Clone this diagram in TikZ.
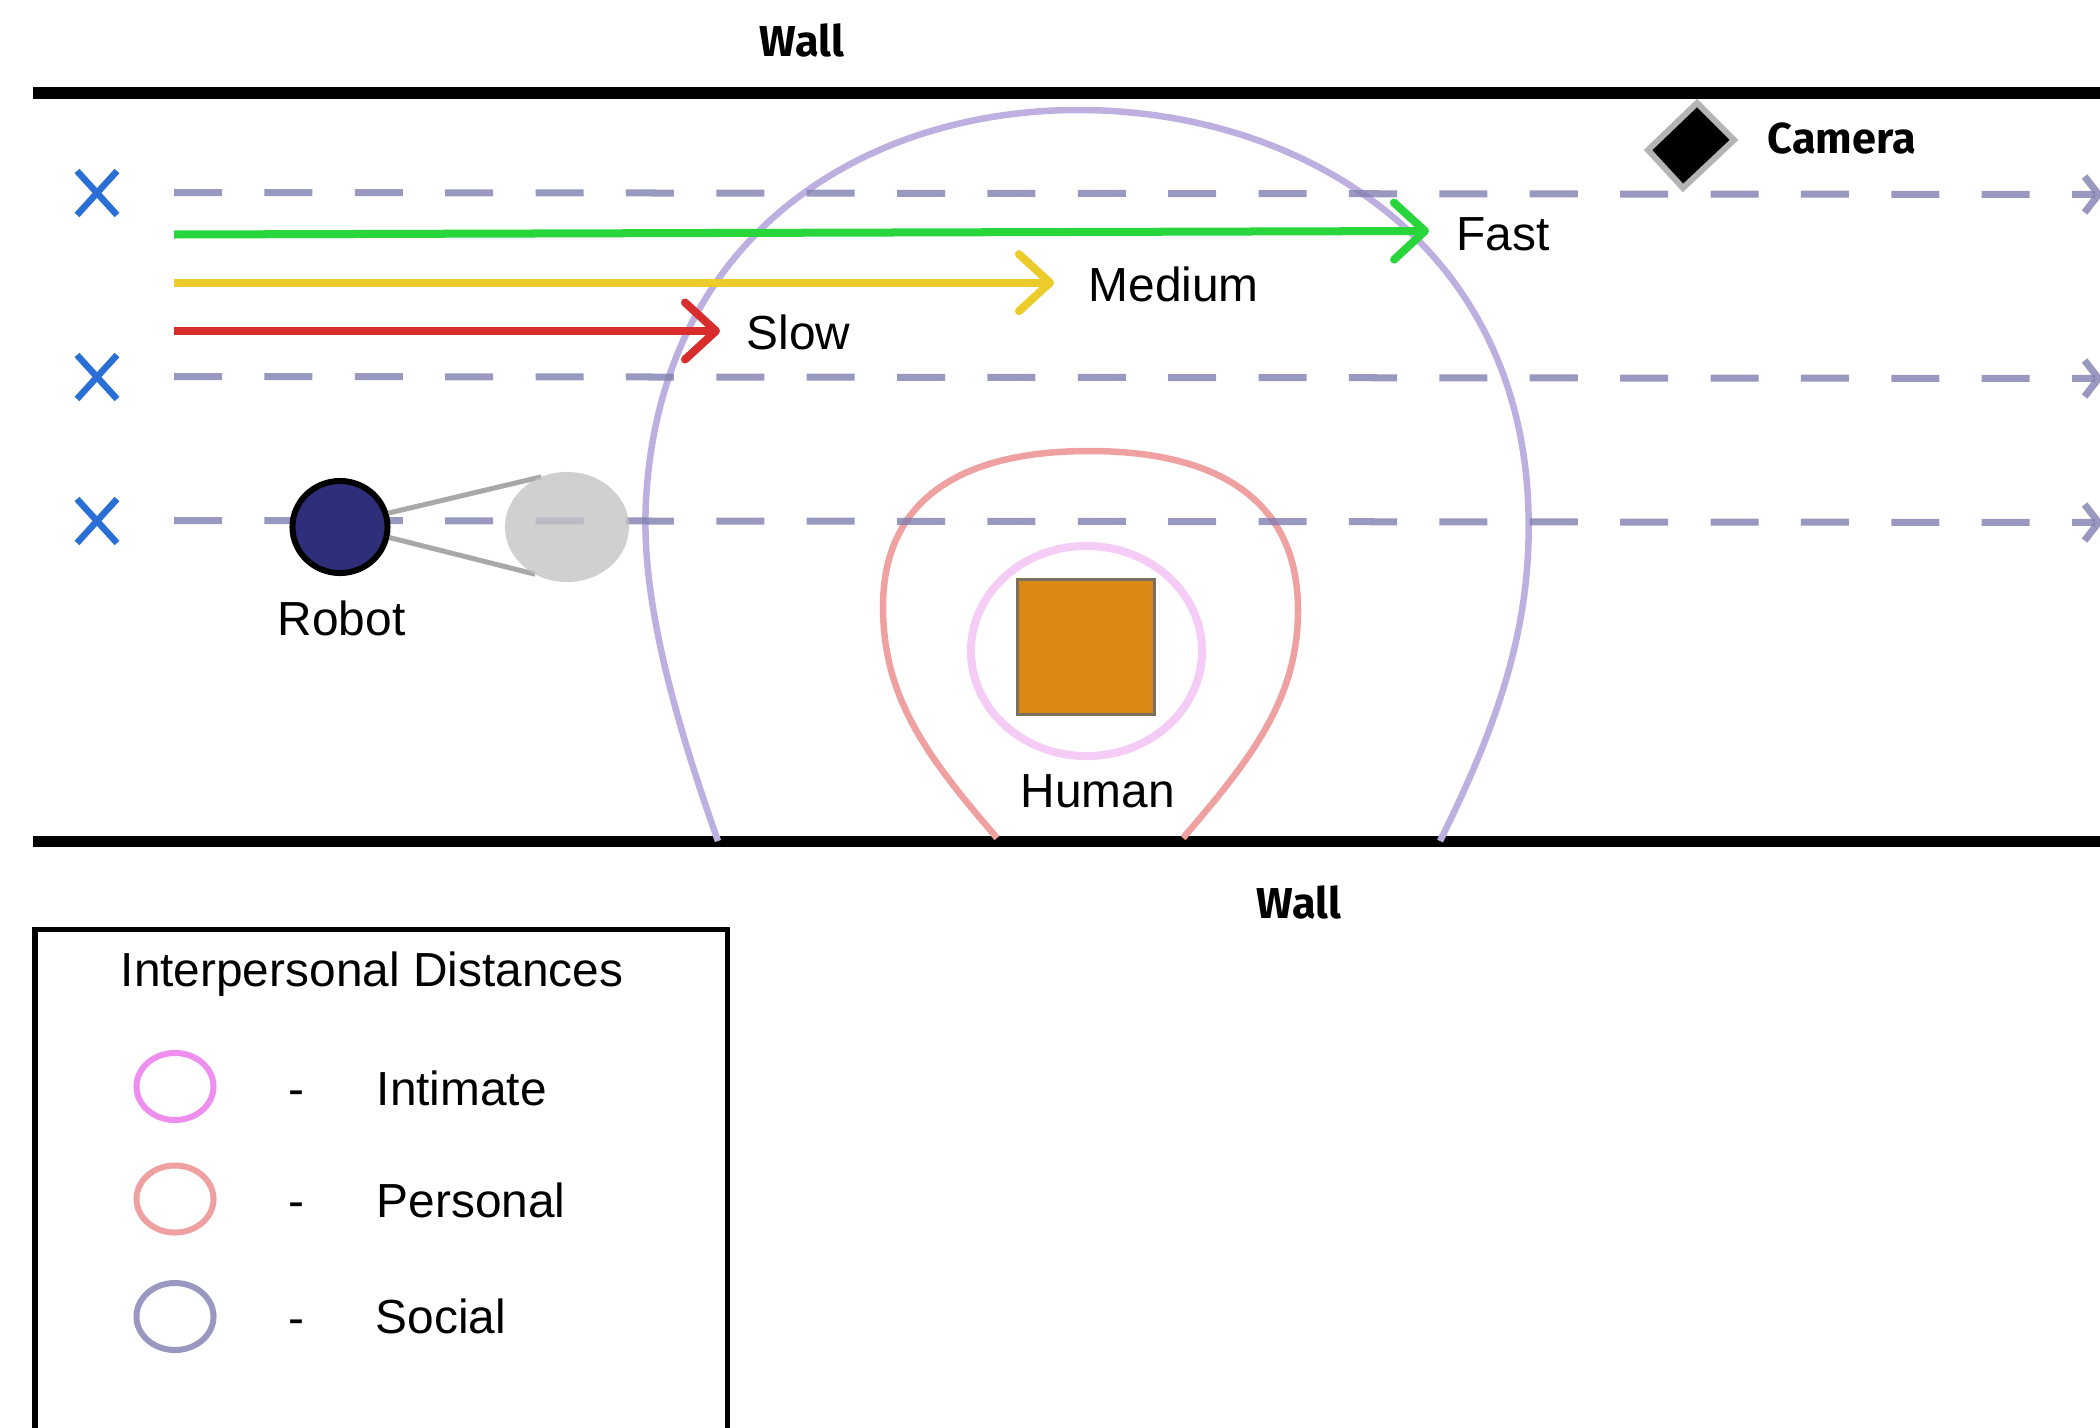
\documentclass[tikz,border=0pt]{standalone}
\usepackage{fontspec}
\setmainfont{Liberation Sans}
\newfontfamily\labbold{Fira Sans}
\usetikzlibrary{arrows.meta,shapes.geometric}
\definecolor{dashcol}{RGB}{128,126,176}
\definecolor{xblue}{RGB}{42,111,214}
\definecolor{fastgreen}{RGB}{40,214,60}
\definecolor{medyellow}{RGB}{235,204,42}
\definecolor{slowred}{RGB}{217,44,44}
\definecolor{socialcol}{RGB}{189,176,224}
\definecolor{personalcol}{RGB}{239,160,160}
\definecolor{intimatecol}{RGB}{245,204,245}
\definecolor{intimateleg}{RGB}{238,142,238}
\definecolor{socialleg}{RGB}{154,152,192}
\definecolor{humanfill}{RGB}{218,138,20}
\definecolor{humanedge}{RGB}{122,112,96}
\definecolor{robotfill}{RGB}{46,46,122}
\definecolor{headgray}{RGB}{196,196,196}
\definecolor{conegray}{RGB}{168,168,168}
\definecolor{camgray}{RGB}{180,180,180}
\begin{document}
\begin{tikzpicture}[x=0.01cm,y=-0.01cm,
  lab/.style={inner sep=0pt, anchor=base west, font=\fontsize{13.6}{16}\selectfont},
  boldlab/.style={inner sep=0pt, anchor=base west, font=\labbold\bfseries\fontsize{12.3}{14}\selectfont},
  wallline/.style={line width=0.11cm},
  lane/.style={dashcol, opacity=0.8, line width=0.07cm, dash pattern=on 0.48cm off 0.4233cm,
    -{Straight Barb[length=0.14cm,width=0.36cm]}},
  xmark/.style={xblue, line width=0.065cm},
  speed/.style={line width=0.08cm, -{Straight Barb[length=0.31cm,width=0.57cm,round]}},
  zone/.style={line width=0.065cm},
  legring/.style={line width=0.06cm}
]
\useasboundingbox (0,0) rectangle (2100,1427);

% walls
\draw[wallline] (33,93) -- (2110,93);
\draw[wallline] (33,841) -- (2110,841);
\node[boldlab] (walltop) at (759,56) {Wall};
\node[boldlab] (wallbot) at (1256,918) {Wall};

% interpersonal zones
\draw[zone, socialcol] (718,841) .. controls (668,700) and (641,590) .. (646,500)
  .. controls (661,230) and (870,110) .. (1078,110)
  .. controls (1300,110) and (1515,240) .. (1528,500)
  .. controls (1534,620) and (1500,720) .. (1440,841);
\draw[zone, personalcol] (997,838) .. controls (930,760) and (883,700) .. (883,607)
  .. controls (883,500) and (960,451) .. (1089,451)
  .. controls (1218,451) and (1298,500) .. (1298,610)
  .. controls (1298,700) and (1250,760) .. (1183,838);
\draw[line width=0.08cm, intimatecol] (1086.5,651) ellipse [x radius=1.155cm, y radius=1.05cm];

% lanes
\coordinate (l1s) at (174,192.5); \coordinate (l1e) at (2103,194.5);
\coordinate (l2s) at (174,376.5); \coordinate (l2e) at (2103,378.5);
\coordinate (l3s) at (174,520.5); \coordinate (l3e) at (2103,522.5);
\draw[lane] (l1s) -- (l1e);
\draw[lane] (l2s) -- (l2e);
\draw[lane] (l3s) -- (l3e);

% start markers
\foreach \yy in {193,377,521}{
  \draw[xmark] (77,\yy-22) -- (117,\yy+22);
  \draw[xmark] (117,\yy-22) -- (77,\yy+22);
}

% speed arrows
\coordinate (fs) at (174,234.5); \coordinate (fe) at (1429,231);
\coordinate (ms) at (174,282.7); \coordinate (me) at (1054,282.7);
\coordinate (ss) at (174,331);   \coordinate (se) at (720,331);
\draw[speed, fastgreen] (fs) -- (fe);
\draw[speed, medyellow] (ms) -- (me);
\draw[speed, slowred] (ss) -- (se);
\node[lab] (fast) at (1456,250) {Fast};
\node[lab] (medium) at (1088,301.5) {Medium};
\node[lab] (slow) at (746,349) {Slow};

% camera
\filldraw[fill=black, draw=camgray, line width=0.06cm, line join=miter]
  (1697,103) -- (1734,140) -- (1683,188) -- (1648,150) -- cycle;
\node[boldlab] (camera) at (1767,153) {Camera};

% robot
\node[ellipse, draw=black, fill=robotfill, line width=0.06cm, minimum width=0.95cm,
  minimum height=0.92cm, inner sep=0pt] (robot) at (340,527) {};
\node[ellipse, minimum width=1.24cm, minimum height=1.10cm, inner sep=0pt, outer sep=0pt] (headpos) at (567,527) {};
\draw[conegray, line width=0.05cm] (robot.16) -- (headpos.117);
\draw[conegray, line width=0.05cm] (robot.-12) -- (headpos.236);
\fill[headgray, opacity=0.8] (headpos.center) ellipse [x radius=0.62cm, y radius=0.55cm];
\node[lab] (robotlab) at (277,635) {Robot};

% human
\node[draw=humanedge, fill=humanfill, line width=0.03cm, minimum width=1.36cm,
  minimum height=1.35cm, inner sep=0pt] (human) at (1086,647) {};
\node[lab] (humanlab) at (1020,807) {Human};

% legend
\draw[line width=0.05cm] (35,1440) -- (35,929) -- (727,929) -- (727,1440);
\node[lab] (legtitle) at (120,986) {Interpersonal Distances};
\draw[legring, intimateleg] (175,1086.5) ellipse [x radius=0.385cm, y radius=0.335cm];
\draw[legring, personalcol] (175,1199) ellipse [x radius=0.385cm, y radius=0.335cm];
\draw[legring, socialleg] (175,1316.5) ellipse [x radius=0.385cm, y radius=0.335cm];
\node[lab, anchor=base] (d1) at (296,1105) {-};
\node[lab, anchor=base] (d2) at (296,1217) {-};
\node[lab, anchor=base] (d3) at (296,1334) {-};
\node[lab] (intimate) at (376,1105) {Intimate};
\node[lab] (personal) at (376,1217) {Personal};
\node[lab] (social) at (375,1333) {Social};
\end{tikzpicture}
\end{document}
